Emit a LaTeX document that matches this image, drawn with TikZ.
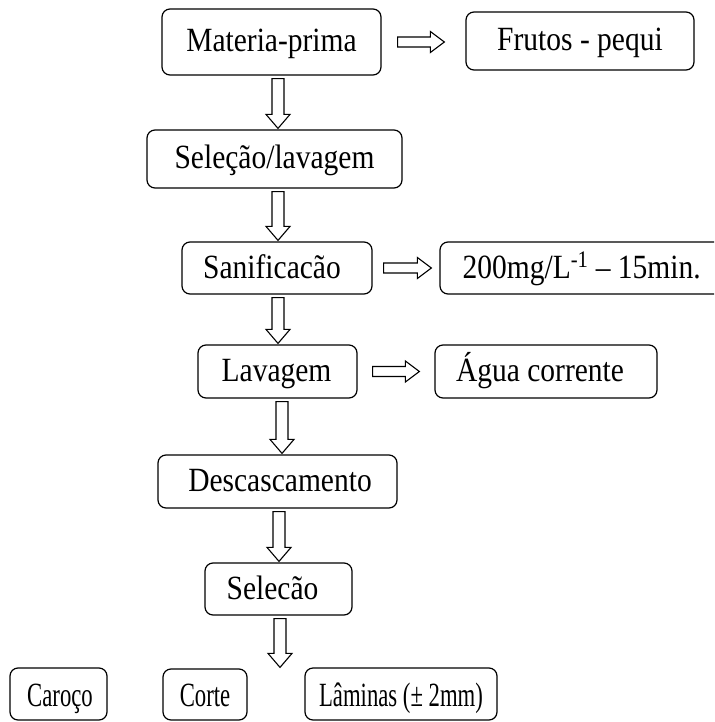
\documentclass[tikz,border=0pt]{standalone}
\usepackage{fontspec}
\usepackage{graphicx}
\setmainfont{Liberation Serif}
\usetikzlibrary{calc}
\tikzset{
  box/.style={draw, line width=1.2pt, rounded corners=8pt, inner sep=0pt},
  txt/.style={font=\fontsize{29.5}{32}\selectfont, inner sep=0pt, anchor=base},
  blk/.style={draw, line width=1.1pt, line join=miter, fill=white},
}
\newcommand{\tx}[1]{\scalebox{1}[1.15]{#1}}
\newcommand{\tb}[1]{\scalebox{0.77}[1.15]{#1}}
% down block arrow: from node, to node, x position (pt)
\newcommand{\downblk}[3]{%
  \draw[blk] let \p1=(#1.south), \p2=(#2.north) in
   ({#3pt-6pt},{\y1-3pt}) -- ({#3pt+6pt},{\y1-3pt}) -- ({#3pt+6pt},{\y2+15pt})
   -- ({#3pt+12pt},{\y2+15pt}) -- ({#3pt},{\y2+1pt}) -- ({#3pt-12pt},{\y2+15pt})
   -- ({#3pt-6pt},{\y2+15pt}) -- cycle;}
% right block arrow: from node, to node, gap left, gap right
\newcommand{\rightblk}[4]{%
  \draw[blk] let \p1=(#1.east), \p2=(#2.west) in
   ({\x1+#3pt},{\y1+5pt}) -- ({\x2-#4pt-14pt},{\y1+5pt}) -- ({\x2-#4pt-14pt},{\y1+10.5pt})
   -- ({\x2-#4pt},{\y1}) -- ({\x2-#4pt-14pt},{\y1-10.5pt}) -- ({\x2-#4pt-14pt},{\y1-5pt})
   -- ({\x1+#3pt},{\y1-5pt}) -- cycle;}
\begin{document}
\begin{tikzpicture}
\useasboundingbox (0pt,0pt) rectangle (714pt,-722pt);
\clip (0pt,0pt) rectangle (714pt,-722pt);
\fill[white] (0pt,0pt) rectangle (714pt,-722pt);

% boxes
\node[box, minimum width=219pt, minimum height=66pt] (mp) at (271.5pt,-42pt) {};
\node[box, minimum width=228pt, minimum height=58pt] (fp) at (580pt,-41pt) {};
\node[box, minimum width=255pt, minimum height=58pt] (sl) at (274.5pt,-159pt) {};
\node[box, minimum width=190pt, minimum height=52pt] (sn) at (277pt,-268pt) {};
\node[box, minimum width=320pt, minimum height=52pt] (dose) at (600pt,-268pt) {};
\node[box, minimum width=159pt, minimum height=53pt] (lv) at (277.5pt,-371.5pt) {};
\node[box, minimum width=222pt, minimum height=53pt] (ag) at (546pt,-371.5pt) {};
\node[box, minimum width=239pt, minimum height=53pt] (ds) at (277.5pt,-481.5pt) {};
\node[box, minimum width=147pt, minimum height=52pt] (se) at (278.5pt,-589pt) {};
\node[box, minimum width=97pt, minimum height=52pt] (ca) at (58.5pt,-694pt) {};
\node[box, minimum width=84pt, minimum height=51pt] (co) at (205pt,-694.5pt) {};
\node[box, minimum width=192pt, minimum height=52pt] (la) at (401pt,-694pt) {};

% texts
\node[txt] (mp-t) at ([yshift=-10pt]mp.center) {\tx{Materia-prima}};
\node[txt] (fp-t) at ([yshift=-10pt]fp.center) {\tx{Frutos - pequi}};
\node[txt] (sl-t) at ([yshift=-10pt]sl.center) {\tx{Seleção/lavagem}};
\node[txt] (sn-t) at ([xshift=-5pt,yshift=-10pt]sn.center) {\tx{Sanificacão}};
\node[txt, anchor=base west] (dose-t) at ([xshift=23pt,yshift=-10pt]dose.west) {\tx{200mg/L\textsuperscript{-1} – 15min.}};
\node[txt] (lv-t) at ([xshift=-1pt,yshift=-10pt]lv.center) {\tx{Lavagem}};
\node[txt] (ag-t) at ([xshift=-6pt,yshift=-10pt]ag.center) {\tx{Água corrente}};
\node[txt] (ds-t) at ([xshift=2.5pt,yshift=-10pt]ds.center) {\tx{Descascamento}};
\node[txt] (se-t) at ([xshift=-6pt,yshift=-10pt]se.center) {\tx{Selecão}};
\node[txt] (ca-t) at ([xshift=1.5pt,yshift=-12pt]ca.center) {\tb{Caroço}};
\node[txt] (co-t) at ([yshift=-12pt]co.center) {\tb{Corte}};
\node[txt] (la-t) at ([yshift=-12pt]la.center) {\tb{Lâminas (± 2mm)}};

% connectors
\rightblk{mp}{fp}{16}{21}
\rightblk{sn}{dose}{11}{8}
\rightblk{lv}{ag}{15}{15}

\downblk{mp}{sl}{278}
\downblk{sl}{sn}{278}
\downblk{sn}{lv}{278}
\downblk{lv}{ds}{282}
\downblk{ds}{se}{279}
\downblk{se}{co}{280}
\end{tikzpicture}
\end{document}
